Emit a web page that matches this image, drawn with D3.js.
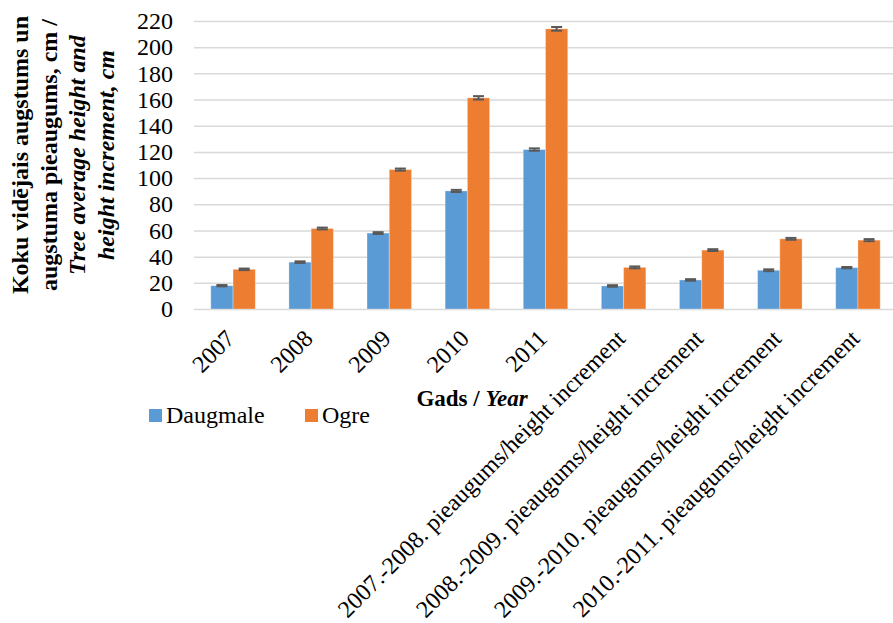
<!DOCTYPE html>
<html>
<head>
<meta charset="utf-8">
<script src="https://cdn.jsdelivr.net/npm/d3@7"></script>
<style>
  body { margin: 0; background: #fff; }
  svg, svg text { font-family: "Liberation Serif", "Times New Roman", serif !important; }
  svg { display: block; }
</style>
</head>
<body>
<svg id="chart" width="893" height="623"></svg>
<script>
const categories = ["2007", "2008", "2009", "2010", "2011",
  "2007.-2008. pieaugums/height increment",
  "2008.-2009. pieaugums/height increment",
  "2009.-2010. pieaugums/height increment",
  "2010.-2011. pieaugums/height increment"];
const seriesNames = ["Daugmale", "Ogre"];
const daugmale = [17.8, 35.8, 58.0, 90.2, 121.8, 17.6, 22.2, 29.6, 31.6];
const ogre = [30.3, 61.5, 106.5, 161.3, 214.0, 31.8, 45.0, 53.6, 52.6];
const daugmaleErr = [0.5, 0.6, 0.7, 0.8, 0.9, 0.6, 0.6, 0.7, 0.5];
const ogreErr = [0.6, 0.7, 0.8, 1.3, 1.4, 0.7, 0.7, 0.7, 0.8];
const yTicks = [0, 20, 40, 60, 80, 100, 120, 140, 160, 180, 200, 220];
const colors = ["#5B9BD5", "#ED7D31"];

const svg = d3.select("#chart");
const pLeft = 194, pRight = 897, pTop = 21, pBottom = 309;

const x = d3.scaleBand().domain(categories).range([pLeft, pRight]).padding(0);
const xs = d3.scaleBand().domain(seriesNames).range([0, x.bandwidth()]).paddingInner(0).paddingOuter(0.755);
const y = d3.scaleLinear().domain([0, 220]).range([pBottom, pTop]);

// gridlines
const grid = svg.append("g").attr("transform", `translate(${pLeft},0)`)
  .call(d3.axisLeft(y).tickValues(yTicks).tickSize(-(pRight - pLeft)).tickFormat(""));
grid.select(".domain").remove();
grid.selectAll("line").attr("stroke", "#d9d9d9").attr("stroke-width", 1.5);

// y axis labels
const yAxis = svg.append("g").attr("transform", `translate(${pLeft},0)`)
  .call(d3.axisLeft(y).tickValues(yTicks).tickSize(0).tickPadding(21));
yAxis.attr("font-family", null).attr("font-size", null);
yAxis.select(".domain").remove();
yAxis.selectAll("text").attr("font-size", 24).attr("fill", "#000");

// bars
const data = categories.map((c, i) => ({ c, vals: [
  { s: seriesNames[0], v: daugmale[i], e: daugmaleErr[i] },
  { s: seriesNames[1], v: ogre[i], e: ogreErr[i] }] }));

const groups = svg.append("g").selectAll("g").data(data).join("g")
  .attr("transform", d => `translate(${x(d.c)},0)`);
groups.selectAll("rect").data(d => d.vals).join("rect")
  .attr("x", d => xs(d.s))
  .attr("y", d => y(d.v))
  .attr("width", xs.bandwidth())
  .attr("height", d => y(0) - y(d.v))
  .attr("fill", (d, i) => colors[i])
  .attr("stroke", "#ffffff").attr("stroke-opacity", 0.3).attr("stroke-width", 1);

// error bars
const eb = groups.selectAll("g.err").data(d => d.vals).join("g").attr("class", "err")
  .attr("stroke", "#595959").attr("stroke-width", 2);
const capHalf = 5.5;
eb.append("line")
  .attr("x1", d => xs(d.s) + xs.bandwidth() / 2).attr("x2", d => xs(d.s) + xs.bandwidth() / 2)
  .attr("y1", d => y(d.v + d.e)).attr("y2", d => y(d.v - d.e));
eb.append("line")
  .attr("x1", d => xs(d.s) + xs.bandwidth() / 2 - capHalf).attr("x2", d => xs(d.s) + xs.bandwidth() / 2 + capHalf)
  .attr("y1", d => y(d.v + d.e)).attr("y2", d => y(d.v + d.e));
eb.append("line")
  .attr("x1", d => xs(d.s) + xs.bandwidth() / 2 - capHalf).attr("x2", d => xs(d.s) + xs.bandwidth() / 2 + capHalf)
  .attr("y1", d => y(d.v - d.e)).attr("y2", d => y(d.v - d.e));

// x axis
const xAxis = svg.append("g").attr("transform", `translate(0,${pBottom})`)
  .call(d3.axisBottom(x).tickSize(0));
xAxis.attr("font-family", null).attr("font-size", null);
xAxis.select(".domain").remove();
xAxis.selectAll("text")
  .attr("x", 0).attr("y", 0).attr("dy", null)
  .attr("text-anchor", "end")
  .attr("transform", "translate(3,31) rotate(-45)")
  .attr("font-size", 24).attr("fill", "#000");

// x title
const xt = svg.append("text").attr("x", 472).attr("y", 406).attr("text-anchor", "middle")
  .attr("font-size", 23).attr("font-weight", "bold");
xt.append("tspan").text("Gads / ");
xt.append("tspan").attr("font-style", "italic").text("Year");

// y title
const yTitle = [
  { t: "Koku vidējais augstums un", it: false, bx: 28 },
  { t: "augstuma pieaugums, cm /", it: false, bx: 56.5 },
  { t: "Tree average height and", it: true, bx: 85 },
  { t: "height increment, cm", it: true, bx: 113.5 }
];
svg.append("g").selectAll("text").data(yTitle).join("text")
  .attr("transform", d => `translate(${d.bx},155) rotate(-90)`)
  .attr("text-anchor", "middle")
  .attr("font-size", 24).attr("font-weight", "bold")
  .attr("font-style", d => d.it ? "italic" : "normal")
  .text(d => d.t);

// legend
const legX = [149, 305];
const leg = svg.append("g").selectAll("g").data(seriesNames).join("g")
  .attr("transform", (d, i) => `translate(${legX[i]},409)`);
leg.append("rect").attr("width", 13).attr("height", 13).attr("fill", (d, i) => colors[i]);
leg.append("text").attr("x", 17).attr("y", 14).attr("font-size", 24).text(d => d);
</script>
</body>
</html>
